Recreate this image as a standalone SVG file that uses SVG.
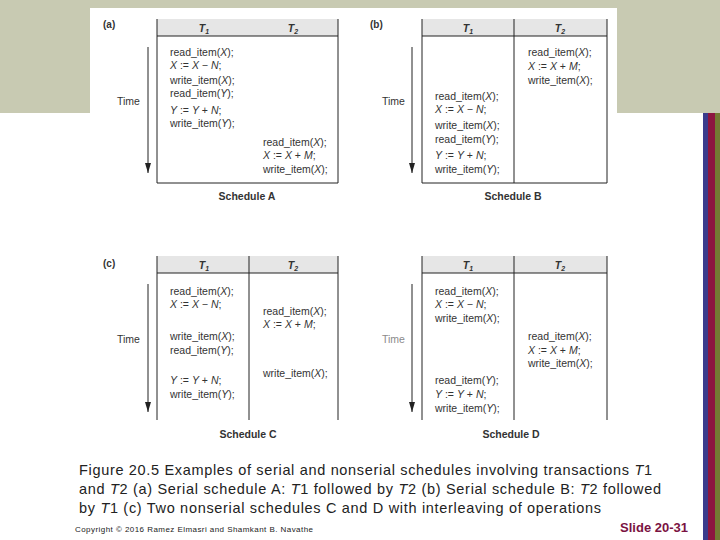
<svg xmlns="http://www.w3.org/2000/svg" width="720" height="540" viewBox="0 0 720 540">
<defs>
<style>
.c{font-family:"Liberation Sans",Arial,sans-serif;font-size:10.5px;fill:#333}
.i{font-style:italic}
.h{font-family:"Liberation Sans",Arial,sans-serif;font-size:10.5px;font-style:italic;font-weight:bold;fill:#333;text-anchor:middle}
.lab{font-family:"Liberation Sans",Arial,sans-serif;font-size:10px;font-weight:bold;fill:#333}
.sch{font-family:"Liberation Sans",Arial,sans-serif;font-size:10.5px;font-weight:bold;fill:#333;text-anchor:middle}
.time{font-family:"Liberation Sans",Arial,sans-serif;font-size:10.5px;fill:#333}
.box{fill:none;stroke:#222;stroke-width:1}
.hdr{fill:#e6e6e6}
.arr{stroke:#222;stroke-width:1;fill:none}
.cap{font-family:"Liberation Sans",Arial,sans-serif;font-size:14.5px;fill:#222}
</style>
<marker id="ah" viewBox="0 0 10 6" refX="10" refY="3" markerWidth="10" markerHeight="6" markerUnits="userSpaceOnUse" orient="auto">
<path d="M0,0 L10,3 L0,6 Z" fill="#222"/>
</marker>
</defs>
<rect x="0" y="0" width="720" height="540" fill="#fff"/>
<rect x="0" y="0" width="720" height="113" fill="#c8cab2"/>
<rect x="90" y="8" width="527" height="200" fill="#fff"/>
<rect x="703" y="113" width="5" height="427" fill="#3b3b8c"/>
<rect x="708" y="113" width="7" height="427" fill="#8c1640"/>
<rect x="715" y="113" width="5" height="427" fill="#737a33"/>

<g id="connectors">
<line class="arr" x1="148" y1="47" x2="148" y2="173" marker-end="url(#ah)"/>
<line class="arr" x1="412" y1="47" x2="412" y2="173" marker-end="url(#ah)"/>
<line class="arr" x1="148" y1="284" x2="148" y2="412" marker-end="url(#ah)"/>
<line class="arr" x1="412" y1="284" x2="412" y2="412" marker-end="url(#ah)"/>
</g>

<g id="scheduleA">
<rect class="hdr" x="157" y="19" width="181" height="17"/>
<path class="box" d="M157,19 V183 H338 V19 M157,36 H338"/>
<text class="lab" x="103" y="28">(a)</text>
<text class="h" x="204" y="32">T<tspan font-size="7" dy="2">1</tspan></text>
<text class="h" x="293" y="32">T<tspan font-size="7" dy="2">2</tspan></text>
<text class="time" x="117" y="105">Time</text>
<text class="c" x="170" y="56">read_item(<tspan class="i">X</tspan>);</text>
<text class="c" x="170" y="69"><tspan class="i">X</tspan> := <tspan class="i">X</tspan> − <tspan class="i">N</tspan>;</text>
<text class="c" x="170" y="84">write_item(<tspan class="i">X</tspan>);</text>
<text class="c" x="170" y="97">read_item(<tspan class="i">Y</tspan>);</text>
<text class="c" x="170" y="114"><tspan class="i">Y</tspan> := <tspan class="i">Y</tspan> + <tspan class="i">N</tspan>;</text>
<text class="c" x="170" y="127">write_item(<tspan class="i">Y</tspan>);</text>
<text class="c" x="263" y="146">read_item(<tspan class="i">X</tspan>);</text>
<text class="c" x="263" y="159"><tspan class="i">X</tspan> := <tspan class="i">X</tspan> + <tspan class="i">M</tspan>;</text>
<text class="c" x="263" y="173">write_item(<tspan class="i">X</tspan>);</text>
<text class="sch" x="247" y="200">Schedule A</text>
</g>

<g id="scheduleB">
<rect class="hdr" x="422" y="19" width="185" height="17"/>
<path class="box" d="M422,19 V183 H607 V19 M422,36 H607 M514,19 V183"/>
<text class="lab" x="370" y="28">(b)</text>
<text class="h" x="468" y="32">T<tspan font-size="7" dy="2">1</tspan></text>
<text class="h" x="560" y="32">T<tspan font-size="7" dy="2">2</tspan></text>
<text class="time" x="382" y="105">Time</text>
<text class="c" x="528" y="56">read_item(<tspan class="i">X</tspan>);</text>
<text class="c" x="528" y="70"><tspan class="i">X</tspan> := <tspan class="i">X</tspan> + <tspan class="i">M</tspan>;</text>
<text class="c" x="528" y="84">write_item(<tspan class="i">X</tspan>);</text>
<text class="c" x="435" y="100">read_item(<tspan class="i">X</tspan>);</text>
<text class="c" x="435" y="113"><tspan class="i">X</tspan> := <tspan class="i">X</tspan> − <tspan class="i">N</tspan>;</text>
<text class="c" x="435" y="129">write_item(<tspan class="i">X</tspan>);</text>
<text class="c" x="435" y="143">read_item(<tspan class="i">Y</tspan>);</text>
<text class="c" x="435" y="159"><tspan class="i">Y</tspan> := <tspan class="i">Y</tspan> + <tspan class="i">N</tspan>;</text>
<text class="c" x="435" y="173">write_item(<tspan class="i">Y</tspan>);</text>
<text class="sch" x="513" y="200">Schedule B</text>
</g>

<g id="scheduleC">
<rect class="hdr" x="157" y="256" width="181" height="17"/>
<path class="box" d="M157,256 V420 M338,256 V420 M249,256 V420 M157,273 H338"/>
<text class="lab" x="103" y="267">(c)</text>
<text class="h" x="204" y="269">T<tspan font-size="7" dy="2">1</tspan></text>
<text class="h" x="293" y="269">T<tspan font-size="7" dy="2">2</tspan></text>
<text class="time" x="117" y="343">Time</text>
<text class="c" x="170" y="295">read_item(<tspan class="i">X</tspan>);</text>
<text class="c" x="170" y="308"><tspan class="i">X</tspan> := <tspan class="i">X</tspan> − <tspan class="i">N</tspan>;</text>
<text class="c" x="170" y="340">write_item(<tspan class="i">X</tspan>);</text>
<text class="c" x="170" y="354">read_item(<tspan class="i">Y</tspan>);</text>
<text class="c" x="170" y="384"><tspan class="i">Y</tspan> := <tspan class="i">Y</tspan> + <tspan class="i">N</tspan>;</text>
<text class="c" x="170" y="398">write_item(<tspan class="i">Y</tspan>);</text>
<text class="c" x="263" y="315">read_item(<tspan class="i">X</tspan>);</text>
<text class="c" x="263" y="328"><tspan class="i">X</tspan> := <tspan class="i">X</tspan> + <tspan class="i">M</tspan>;</text>
<text class="c" x="263" y="377">write_item(<tspan class="i">X</tspan>);</text>
<text class="sch" x="248" y="438">Schedule C</text>
</g>

<g id="scheduleD">
<rect class="hdr" x="422" y="256" width="185" height="17"/>
<path class="box" d="M422,256 V420 M607,256 V420 M514,256 V420 M422,273 H607"/>
<text class="h" x="468" y="269">T<tspan font-size="7" dy="2">1</tspan></text>
<text class="h" x="560" y="269">T<tspan font-size="7" dy="2">2</tspan></text>
<text class="time" x="382" y="343" style="fill:#8a8a8a">Time</text>
<text class="c" x="435" y="295">read_item(<tspan class="i">X</tspan>);</text>
<text class="c" x="435" y="308"><tspan class="i">X</tspan> := <tspan class="i">X</tspan> − <tspan class="i">N</tspan>;</text>
<text class="c" x="435" y="322">write_item(<tspan class="i">X</tspan>);</text>
<text class="c" x="435" y="384">read_item(<tspan class="i">Y</tspan>);</text>
<text class="c" x="435" y="398"><tspan class="i">Y</tspan> := <tspan class="i">Y</tspan> + <tspan class="i">N</tspan>;</text>
<text class="c" x="435" y="412">write_item(<tspan class="i">Y</tspan>);</text>
<text class="c" x="528" y="340">read_item(<tspan class="i">X</tspan>);</text>
<text class="c" x="528" y="354"><tspan class="i">X</tspan> := <tspan class="i">X</tspan> + <tspan class="i">M</tspan>;</text>
<text class="c" x="528" y="367">write_item(<tspan class="i">X</tspan>);</text>
<text class="sch" x="511" y="438">Schedule D</text>
</g>

<g id="caption">
<text class="cap" x="79" y="475" textLength="573" lengthAdjust="spacing">Figure 20.5 Examples of serial and nonserial schedules involving transactions <tspan class="i">T</tspan>1</text>
<text class="cap" x="79" y="494" textLength="582" lengthAdjust="spacing">and <tspan class="i">T</tspan>2 (a) Serial schedule A: <tspan class="i">T</tspan>1 followed by <tspan class="i">T</tspan>2 (b) Serial schedule B: <tspan class="i">T</tspan>2 followed</text>
<text class="cap" x="79" y="513" textLength="522" lengthAdjust="spacing">by <tspan class="i">T</tspan>1 (c) Two nonserial schedules C and D with interleaving of operations</text>
<text x="75" y="532" textLength="238" lengthAdjust="spacing" style="font-family:'Liberation Sans',Arial,sans-serif;font-size:8px;fill:#222">Copyright © 2016 Ramez Elmasri and Shamkant B. Navathe</text>
<text x="688" y="532" text-anchor="end" style="font-family:'Liberation Sans',Arial,sans-serif;font-size:13px;font-weight:bold;fill:#7a1242">Slide 20-31</text>
</g>
</svg>
